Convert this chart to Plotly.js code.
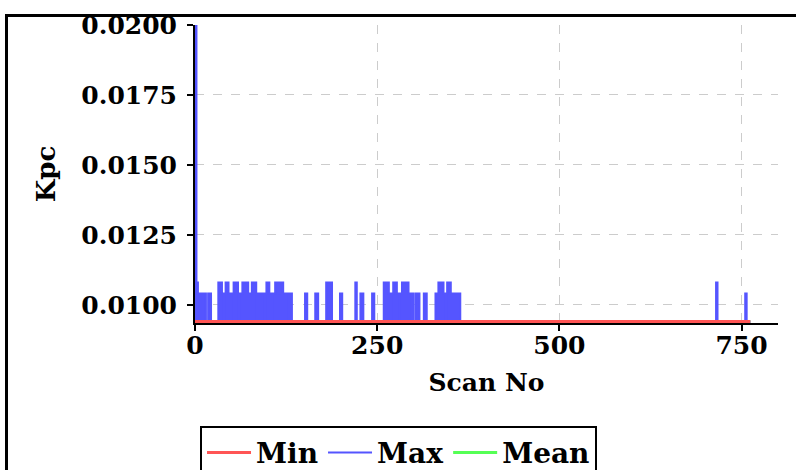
<!DOCTYPE html>
<html>
<head>
<meta charset="utf-8">
<script src="https://cdn.plot.ly/plotly-3.0.1.min.js"></script>
<style>
html,body{margin:0;padding:0;background:#fff;overflow:hidden;width:796px;height:470px;}
#frame{position:absolute;left:5px;top:14px;width:900px;height:600px;border:3px solid #000;overflow:hidden;background:#fff;}
#plot{position:absolute;left:-8px;top:-17px;width:796px;height:470px;}
</style>
</head>
<body>
<div id="frame"><div id="plot"></div></div>
<script>
// Min series (constant)
var minScan = [0, 762];
var minValue = [0.0094, 0.0094];
// Mean series (hidden under Min)
var meanScan = [0, 762];
var meanValue = [0.0094, 0.0094];
// Max series: scan numbers where the value changes, and the value from there on
var maxScan = [0, 2, 4, 15, 18, 22, 32, 37, 39, 40, 42, 46, 49, 50, 53, 59, 60, 61, 65, 73, 74, 75, 78, 84, 85, 87, 96, 97, 98, 102, 106, 107, 110, 115, 117, 121, 124, 126, 133, 151, 154, 165, 169, 180, 188, 199, 202, 220, 222, 227, 231, 243, 246, 259, 266, 269, 270, 272, 277, 280, 281, 284, 293, 297, 298, 300, 303, 308, 314, 318, 330, 334, 341, 344, 345, 346, 351, 364, 715, 717, 755, 757, 762];
var maxValue = [0.0200, 0.0108, 0.0104, 0.0094, 0.0104, 0.0094, 0.0108, 0.0104, 0.0094, 0.0104, 0.0108, 0.0104, 0.0094, 0.0104, 0.0108, 0.0104, 0.0094, 0.0104, 0.0108, 0.0104, 0.0094, 0.0104, 0.0108, 0.0104, 0.0094, 0.0104, 0.0094, 0.0104, 0.0108, 0.0104, 0.0094, 0.0104, 0.0108, 0.0104, 0.0108, 0.0104, 0.0094, 0.0104, 0.0094, 0.0104, 0.0094, 0.0104, 0.0094, 0.0108, 0.0094, 0.0104, 0.0094, 0.0108, 0.0094, 0.0104, 0.0094, 0.0104, 0.0094, 0.0108, 0.0104, 0.0094, 0.0104, 0.0108, 0.0104, 0.0094, 0.0104, 0.0108, 0.0104, 0.0094, 0.0104, 0.0094, 0.0104, 0.0094, 0.0104, 0.0094, 0.0104, 0.0108, 0.0104, 0.0094, 0.0104, 0.0108, 0.0104, 0.0094, 0.0108, 0.0094, 0.0104, 0.0094, 0.0094];
var xTicks = [0, 250, 500, 750];
var yTicks = [0.0100, 0.0125, 0.0150, 0.0175, 0.0200];

var FONT = 'DejaVu Serif';
var BLUE = 'rgb(85,85,255)';
var traces = [
  // dense scan-to-scan oscillation of Max renders as a solid blue area
  {x: maxScan, y: maxValue, name: 'Max', mode: 'none', fill: 'tozeroy', fillcolor: BLUE,
   line: {shape: 'hv'}, showlegend: false},
  {x: meanScan, y: meanValue, name: 'Mean', mode: 'lines', line: {color: 'rgb(85,255,85)', width: 3}},
  {x: maxScan, y: maxValue, name: 'Max', mode: 'lines', line: {color: BLUE, width: 2, shape: 'hv'}},
  {x: minScan, y: minValue, name: 'Min', mode: 'lines', line: {color: 'rgb(255,85,85)', width: 3}}
];
function axis(extra) {
  var a = {
    showgrid: true, gridcolor: '#cccccc', griddash: 'dash', gridwidth: 1,
    showline: true, linecolor: '#000', linewidth: 2, zeroline: false,
    ticks: 'outside', ticklen: 6, tickwidth: 2, tickcolor: '#000',
    tickfont: {family: FONT, size: 25, color: '#000', weight: 'bold'},
    layer: 'below traces', fixedrange: true
  };
  for (var k in extra) a[k] = extra[k];
  return a;
}
var layout = {
  width: 796, height: 470,
  margin: {l: 195, r: 18, t: 25, b: 147, pad: 0, autoexpand: false},
  paper_bgcolor: '#fff', plot_bgcolor: '#fff',
  font: {family: FONT, color: '#000'},
  showlegend: true,
  xaxis: axis({range: [0, 800], tickmode: 'array', tickvals: xTicks, ticktext: xTicks.map(String),
    ticklabelstandoff: -7,
    title: {text: 'Scan No', standoff: 14, font: {family: FONT, size: 25, color: '#000', weight: 'bold'}}}),
  yaxis: axis({range: [0.00935, 0.0200], tickmode: 'array', tickvals: yTicks, tickformat: '.4f',
    ticklabelstandoff: 5,
    title: {text: 'Kpc', standoff: 18, font: {family: FONT, size: 26, color: '#000', weight: 'bold'}}}),
  legend: {orientation: 'h', x: 0.0086, y: -0.345, xanchor: 'left', yanchor: 'top',
    bordercolor: '#000', borderwidth: 2, bgcolor: '#fff', traceorder: 'reversed', itemwidth: 44,
    font: {family: FONT, size: 28, color: '#000', weight: 'bold'}}
};
Plotly.newPlot('plot', traces, layout, {staticPlot: true, displayModeBar: false});
</script>
</body>
</html>
